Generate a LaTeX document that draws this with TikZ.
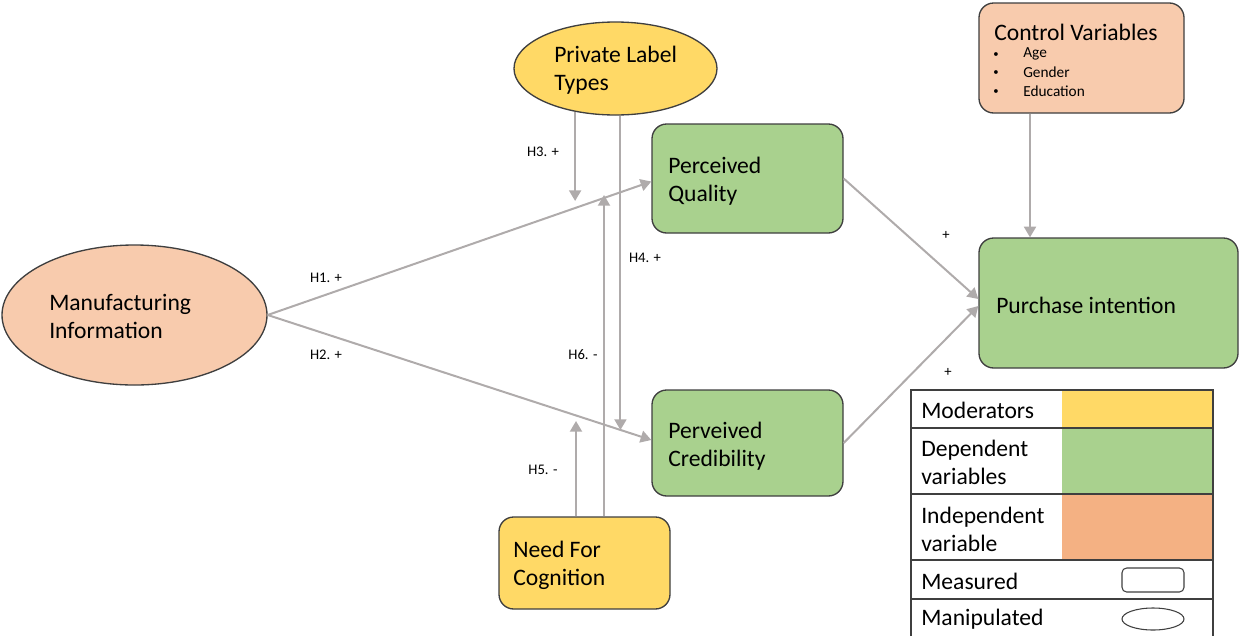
\documentclass[tikz,border=0pt]{standalone}
\usepackage{fontspec}
\setmainfont{Carlito}
\usetikzlibrary{arrows.meta,shapes.geometric}
\definecolor{edge}{HTML}{3F3F3F}
\definecolor{arr}{HTML}{AFABAB}
\definecolor{yel}{HTML}{FFD966}
\definecolor{grn}{HTML}{A9D18E}
\definecolor{pch}{HTML}{F8CBAD}
\definecolor{org}{HTML}{F4B183}
\tikzset{
  box/.style={draw=edge, line width=1pt, rounded corners=11pt, inner sep=0pt},
  oval/.style={draw=edge, line width=1pt, ellipse, inner sep=0pt},
  txt/.style={anchor=west, align=left, inner sep=0pt, font=\fontsize{17.7}{21}\selectfont},
  lbl/.style={inner sep=0pt, font=\fontsize{11}{13}\selectfont},
  small/.style={anchor=west, inner sep=0pt, font=\fontsize{11.5}{13}\selectfont},
  bul/.style={anchor=west, inner sep=0pt, font=\fontsize{8}{10}\selectfont},
  conn/.style={draw=arr, line width=1.5pt, -{Triangle[length=8pt,width=9pt]}},
}
\begin{document}
\begin{tikzpicture}[x=0.75pt,y=-0.75pt]
\useasboundingbox (0,0) rectangle (1239,636);
% shapes
\node[oval, fill=pch, minimum width={265*0.75pt}, minimum height={140*0.75pt}] (mi) at (134.5,315) {};
\node[oval, fill=yel, minimum width={203*0.75pt}, minimum height={93*0.75pt}] (plt) at (615.5,68.5) {};
\node[box, fill=grn, minimum width={191*0.75pt}, minimum height={109*0.75pt}] (pq) at (747.5,178.5) {};
\node[box, fill=grn, minimum width={191*0.75pt}, minimum height={106*0.75pt}] (pc) at (747.5,443) {};
\node[box, fill=yel, minimum width={171*0.75pt}, minimum height={92*0.75pt}] (nfc) at (584.5,563) {};
\node[box, fill=pch, minimum width={205*0.75pt}, minimum height={110*0.75pt}] (cv) at (1081.5,58) {};
\node[box, fill=grn, minimum width={259*0.75pt}, minimum height={130*0.75pt}] (pi) at (1108.5,303) {};
% texts
\node[txt] (mit) at (49,316) {Manufacturing\\Information};
\node[txt] (pltt) at (554,70.5) {Private Label\\Types};
\node[txt] (pqt) at (668,181) {Perceived\\Quality};
\node[txt] (pct) at (668,446) {Perveived\\Credibility};
\node[txt] (nfct) at (513,565) {Need For\\Cognition};
\node[txt] (pit) at (996,305) {Purchase intention};
\node[txt] (cvt) at (994,32) {Control Variables};
\node[bul] (b1) at (993,55) {•};
\node[bul] (b2) at (993,73) {•};
\node[bul] (b3) at (993,92) {•};
\node[small] (c1) at (1023,54) {Age};
\node[small] (c2) at (1023,72) {Gender};
\node[small] (c3) at (1023,91) {Education};
% free ends
\coordinate (h3e) at (576,201);
\coordinate (h4e) at (620,430);
\coordinate (h5e) at (576,421);
\coordinate (h6e) at (604,195);
\coordinate (cvx) at (1030,0);
% connectors
\draw[conn] (mi.east) -- ([yshift=-3*0.75pt]pq.west);
\draw[conn] (mi.east) -- ([yshift=3*0.75pt]pc.west);
\draw[conn] (plt.227.4) -- (plt.227.4 |- h3e);
\draw[conn] (plt.276.2) -- (plt.276.2 |- h4e);
\draw[conn] (nfc.north -| h5e) -- (h5e);
\draw[conn] (nfc.north -| h6e) -- (h6e);
\draw[conn] (pq.east) -- ([yshift=4*0.75pt]pi.west);
\draw[conn] (pc.east) -- ([yshift=-3*0.75pt]pi.west);
\draw[conn] (cv.south -| cvx) -- (pi.north -| cvx);
% labels
\node[lbl] (l1) at (326,278) {H1. +};
\node[lbl] (l2) at (326,355) {H2. +};
\node[lbl] (l3) at (543,152) {H3. +};
\node[lbl] (l4) at (645,258) {H4. +};
\node[lbl] (l5) at (543,470) {H5. -};
\node[lbl] (l6) at (583,355) {H6. -};
\node[lbl] (p1) at (946,235) {+};
\node[lbl] (p2) at (948,372) {+};
% legend
\fill[yel] (1062,390) rectangle (1213,428);
\fill[grn] (1062,428) rectangle (1213,494);
\fill[org] (1062,494) rectangle (1213,560);
\draw[edge, line width=1pt] (911,636) -- (911,390) -- (1213,390) -- (1213,636);
\draw[edge, line width=1pt] (911,428) -- (1213,428);
\draw[edge, line width=1pt] (911,494) -- (1213,494);
\draw[edge, line width=1pt] (911,560) -- (1213,560);
\draw[edge, line width=1pt] (911,599) -- (1213,599);
\node[txt] (lg1) at (921,410) {Moderators};
\node[txt] (lg2) at (921,462) {Dependent\\variables};
\node[txt] (lg3) at (921,529) {Independent\\variable};
\node[txt] (lg4) at (921,581) {Measured};
\node[txt] (lg5) at (921,619) {Manipulated};
\node[draw=edge, line width=0.8pt, rounded corners=3.5pt, inner sep=0pt, minimum width={62*0.75pt}, minimum height={24*0.75pt}] (ic1) at (1153,580) {};
\node[draw=edge, line width=0.8pt, ellipse, inner sep=0pt, minimum width={62*0.75pt}, minimum height={22*0.75pt}] (ic2) at (1153,619) {};
\end{tikzpicture}
\end{document}
